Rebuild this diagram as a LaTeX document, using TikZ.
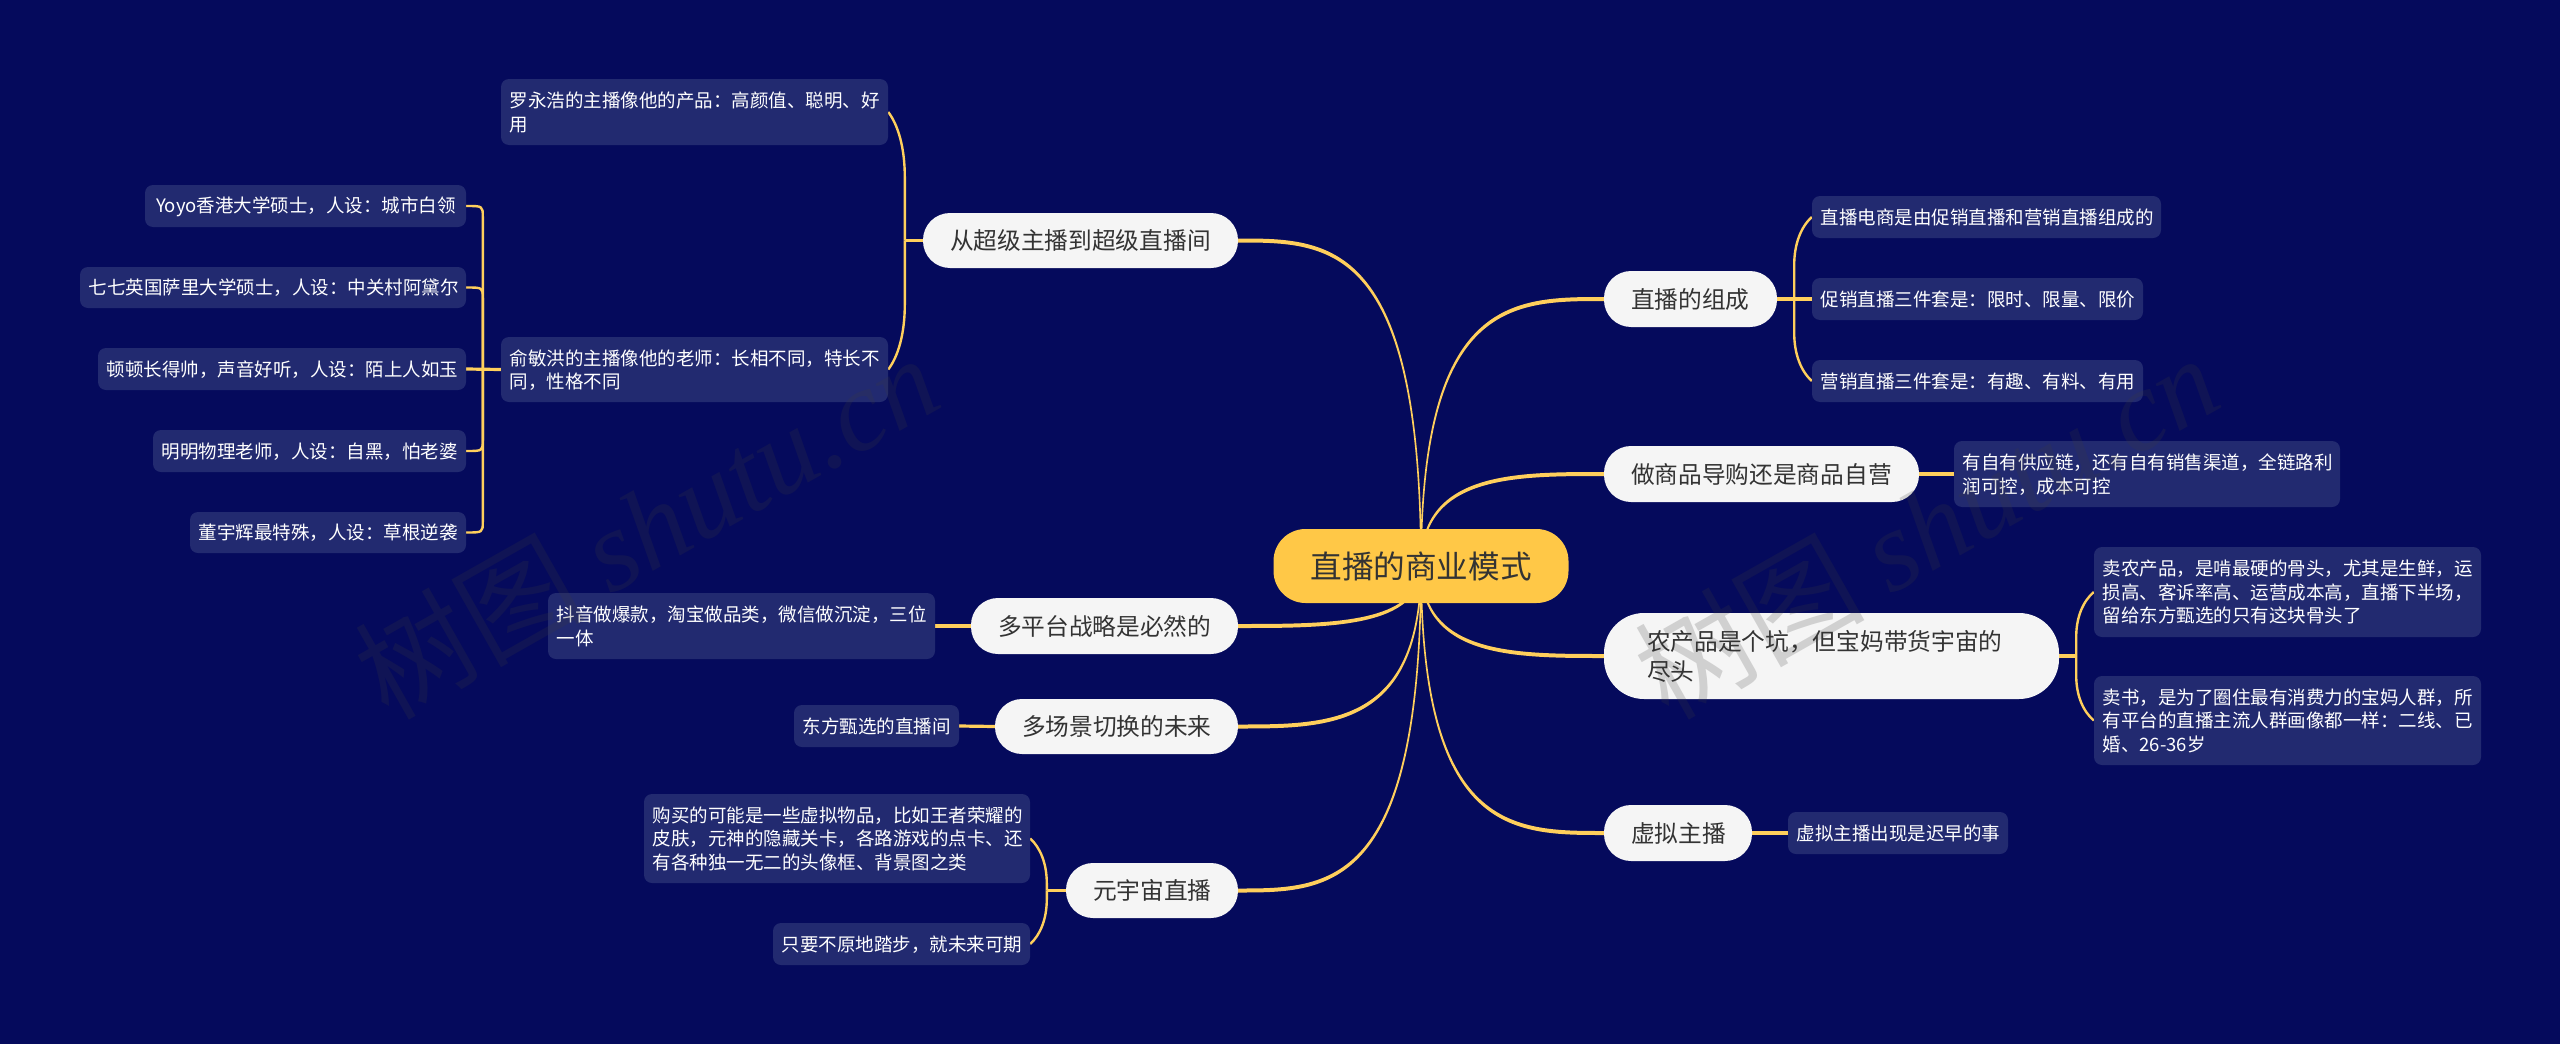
\documentclass[tikz,border=0pt]{standalone}
\usepackage{fontspec}
\setmainfont{Noto Sans CJK SC}
\newfontfamily\wmfont{Liberation Serif}
\usetikzlibrary{calc}
\definecolor{bgc}{HTML}{050A5C}
\definecolor{leafc}{HTML}{222A70}
\definecolor{linkc}{HTML}{FFCF5C}
\definecolor{rootc}{HTML}{FFC847}
\definecolor{mainc}{HTML}{F5F5F5}
\definecolor{inkc}{HTML}{333333}
\definecolor{wmc}{HTML}{3C3C3C}
\pgfdeclarelayer{links}
\pgfsetlayers{links,main}
\newcommand\lnstrut{\rule[-0.13em]{0pt}{1.05em}}
\tikzset{
  x=1pt,y=-1pt,
  boxbase/.style={inner sep=0pt,align=left,
    execute at begin node={\lnstrut},execute at end node={\lnstrut}},
  leafbox/.style 2 args={boxbase,fill=leafc,text=white,rounded corners=8pt,
    font=\fontsize{18.5}{23.5}\selectfont,
    minimum width=#1pt,minimum height=#2pt,text width=#1pt-17pt},
  mainbox/.style 2 args={boxbase,fill=mainc,text=inkc,rounded corners=27pt,
    font=\fontsize{23.7}{30}\selectfont,
    minimum width=#1pt,minimum height=#2pt,text width=#1pt-54pt},
  rootbox/.style={boxbase,fill=rootc,text=inkc,rounded corners=32pt,
    font=\fontsize{31.6}{38}\selectfont,align=center,
    minimum width=295pt,minimum height=74pt,text width=241pt},
  sublinkline/.style={draw=linkc,line width=2.4pt,line join=round},
  stubline/.style={draw=linkc,line width=3.2pt},
  watermark/.style={font=\fontsize{115}{115}\selectfont,text=wmc,opacity=0.2,rotate=29.5,inner sep=0pt},
}
% tapered link from the root centre to a named node's side
\newcommand\mainlink[4]{%
  \path (#1.#2) coordinate (lkE);
  \fill[linkc]
    ($(root.center)+(#3,0)$)
    .. controls ($(root.center |- lkE)+(#3,#4)$) and ($($(root.center |- lkE)!.5!(lkE)$)+(0,#4)$)
    .. ($(lkE)+(0,#4)$)
    -- ($(lkE)-(0,#4)$)
    .. controls ($($(root.center |- lkE)!.5!(lkE)$)-(0,#4)$) and ($(root.center |- lkE)-(#3,#4)$)
    .. ($(root.center)-(#3,0)$) -- cycle;
}
% small bend: parent side, stub to spine, round corner to child
\newcommand\sublink[6]{%
  \path (#1.#2) coordinate (lkP) ($(lkP)+(#5,0)$) coordinate (lkS) (#3.#4) coordinate (lkC);
  \draw[sublinkline] (lkC) .. controls (lkS |- lkC) .. ($(lkS |- lkC)+(0,#6)$) -- (lkS);
  \draw[stubline] (lkS) -- (lkP);
}
% long bend: the curve leaves the child at a slant and eases into the spine
\newcommand\curvelink[6]{%
  \path (#1.#2) coordinate (lkP) ($(lkP)+(#5,0)$) coordinate (lkS) (#3.#4) coordinate (lkC);
  \draw[sublinkline] (lkC)
    .. controls ($(lkC)!.6!(lkS |- lkC)+(0,{#6*0.2})$) and ($(lkS |- lkC)+(0,{#6*0.55})$)
    .. ($(lkS |- lkC)+(0,#6)$) -- (lkS);
  \draw[stubline] (lkS) -- (lkP);
}
\newcommand\straightlink[4]{\draw[stubline] (#1.#2) -- (#3.#4);}
\begin{document}
\begin{tikzpicture}
\useasboundingbox (0,0) rectangle (2560,1044);
% root
\node[rootbox] (root) at (1421,566) {直播的商业模式};
% main nodes
\node[mainbox={315}{55}] (ncy) at (1080.5,240.5) {从超级主播到超级直播间};
\node[mainbox={267}{56}] (ndp) at (1104.5,626) {多平台战略是必然的};
\node[mainbox={243}{55}] (ndc) at (1116.5,726.5) {多场景切换的未来};
\node[mainbox={172}{55}] (nyy) at (1152,890.5) {元宇宙直播};
\node[mainbox={173}{56}] (nzc) at (1690.5,299) {直播的组成};
\node[mainbox={315}{56}] (nzs) at (1761.5,474) {做商品导购还是商品自营};
\node[mainbox={455}{86},rounded corners=40pt,text width=369pt] (nnc) at (1831.5,656) {农产品是个坑，但宝妈带货宇宙的\\尽头};
\node[mainbox={148}{56}] (nxn) at (1678,833) {虚拟主播};
% leaves, left
\node[leafbox={387}{66}] (l1) at (694.5,112) {罗永浩的主播像他的产品：高颜值、聪明、好\\用};
\node[leafbox={387}{65}] (l2) at (694.5,369.5) {俞敏洪的主播像他的老师：长相不同，特长不\\同，性格不同};
\node[leafbox={321}{42}] (p1) at (305.5,206) {\hspace*{2.5pt}Yoyo香港大学硕士，人设：城市白领};
\node[leafbox={386}{41}] (p2) at (273,287.5) {七七英国萨里大学硕士，人设：中关村阿黛尔};
\node[leafbox={368}{42}] (p3) at (282,369) {顿顿长得帅，声音好听，人设：陌上人如玉};
\node[leafbox={313}{42}] (p4) at (309.5,451) {明明物理老师，人设：自黑，怕老婆};
\node[leafbox={276}{41}] (p5) at (328,532.5) {董宇辉最特殊，人设：草根逆袭};
\node[leafbox={387}{66}] (l3) at (741.5,626) {抖音做爆款，淘宝做品类，微信做沉淀，三位\\一体};
\node[leafbox={165}{42}] (l4) at (876.5,726) {东方甄选的直播间};
\node[leafbox={386}{89}] (l5) at (837,838.5) {购买的可能是一些虚拟物品，比如王者荣耀的\\皮肤，元神的隐藏关卡，各路游戏的点卡、还\\有各种独一无二的头像框、背景图之类};
\node[leafbox={257}{42}] (l6) at (901.5,944) {只要不原地踏步，就未来可期};
% leaves, right
\node[leafbox={349}{42}] (r1) at (1986.5,217) {直播电商是由促销直播和营销直播组成的};
\node[leafbox={331}{42}] (r2) at (1977.5,299) {促销直播三件套是：限时、限量、限价};
\node[leafbox={331}{42}] (r3) at (1977.5,381) {营销直播三件套是：有趣、有料、有用};
\node[leafbox={386}{66}] (r4) at (2147,474) {有自有供应链，还有自有销售渠道，全链路利\\润可控，成本可控};
\node[leafbox={387}{90}] (r5) at (2287.5,592) {卖农产品，是啃最硬的骨头，尤其是生鲜，运\\损高、客诉率高、运营成本高，直播下半场，\\留给东方甄选的只有这块骨头了};
\node[leafbox={387}{89}] (r6) at (2287.5,720.5) {卖书，是为了圈住最有消费力的宝妈人群，所\\有平台的直播主流人群画像都一样：二线、已\\婚、26-36岁};
\node[leafbox={220}{42}] (r7) at (1898,833) {虚拟主播出现是迟早的事};
% connectors behind the nodes
\begin{pgfonlayer}{links}
\fill[bgc] (0,0) rectangle (2560,1044);
\mainlink{ncy}{east}{0.8}{-2}
\mainlink{ndp}{east}{0.8}{2}
\mainlink{ndc}{east}{0.8}{2}
\mainlink{nyy}{east}{0.8}{2}
\mainlink{nzc}{west}{-0.8}{-2}
\mainlink{nzs}{west}{-0.8}{-2}
\mainlink{nnc}{west}{-0.8}{2}
\mainlink{nxn}{west}{-0.8}{2}
\curvelink{ncy}{west}{l1}{east}{-18}{65}
\curvelink{ncy}{west}{l2}{east}{-18}{-65}
\sublink{l2}{west}{p1}{east}{-18}{11}
\sublink{l2}{west}{p2}{east}{-18}{11}
\straightlink{l2}{west}{p3}{east}
\sublink{l2}{west}{p4}{east}{-18}{-11}
\sublink{l2}{west}{p5}{east}{-18}{-11}
\straightlink{ndp}{west}{l3}{east}
\straightlink{ndc}{west}{l4}{east}
\curvelink{nyy}{west}{l5}{east}{-19}{45}
\curvelink{nyy}{west}{l6}{east}{-19}{-45}
\curvelink{nzc}{east}{r1}{west}{17}{48}
\straightlink{nzc}{east}{r2}{west}
\curvelink{nzc}{east}{r3}{west}{17}{-48}
\straightlink{nzs}{east}{r4}{west}
\curvelink{nnc}{east}{r5}{west}{17}{45}
\curvelink{nnc}{east}{r6}{west}{17}{-45}
\straightlink{nxn}{east}{r7}{west}
\end{pgfonlayer}
% watermarks
\node[watermark] (wm1) at (646,525) {树图 {\wmfont\itshape shutu.cn}};
\node[watermark] (wm2) at (1926,525) {树图 {\wmfont\itshape shutu.cn}};
\end{tikzpicture}
\end{document}
